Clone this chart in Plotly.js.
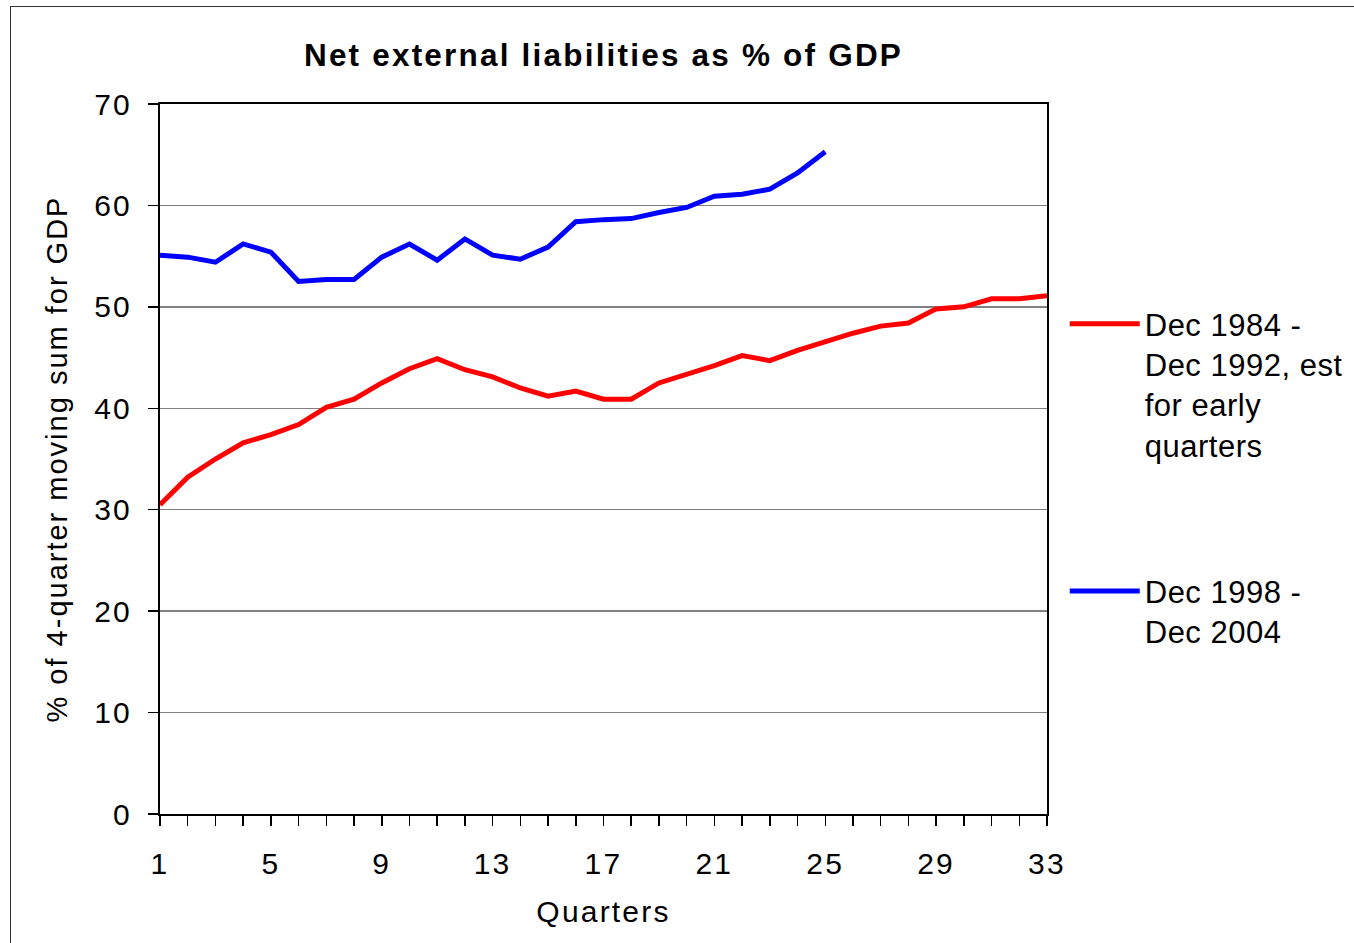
<!DOCTYPE html>
<html>
<head>
<meta charset="utf-8">
<script src="https://cdn.plot.ly/plotly-3.0.1.min.js"></script>
<style>
  html, body { margin: 0; padding: 0; background: #fff; }
  #wrap { position: relative; width: 1354px; height: 943px; }
  #chart { position: absolute; left: 0; top: 0; width: 1354px; height: 943px; }
  #chart text { letter-spacing: 2.2px; }
  #chart .ytitle { letter-spacing: 2px; }
  #chart .legend text { letter-spacing: 0.5px; }
  #frame { position: absolute; left: 10px; top: 6px; width: 1360px; height: 960px;
           border-left: 1.5px solid #333; border-top: 1.5px solid #333; pointer-events: none; }
</style>
</head>
<body>
<div id="wrap">
  <div id="chart"></div>
  <div id="frame"></div>
</div>
<script>
// Quarter index since the start of each episode
const quartersEarly = [1,2,3,4,5,6,7,8,9,10,11,12,13,14,15,16,17,18,19,20,21,22,23,24,25,26,27,28,29,30,31,32,33];
const quartersRecent = [1,2,3,4,5,6,7,8,9,10,11,12,13,14,15,16,17,18,19,20,21,22,23,24,25];

// Net external liabilities, % of 4-quarter moving sum of GDP
const liabilities1984 = [30.5,33.2,35.0,36.6,37.4,38.4,40.1,40.9,42.5,43.9,44.9,43.8,43.1,42.0,41.2,41.7,
                         40.9,40.9,42.5,43.3,44.2,45.2,44.7,45.7,46.6,47.4,48.1,48.4,49.8,50.0,50.8,50.8,51.1];
const liabilities1998 = [55.1,54.9,54.4,56.2,55.4,52.5,52.7,52.7,54.9,56.2,54.6,56.7,55.1,54.7,55.9,58.4,
                         58.6,58.7,59.3,59.8,60.9,61.1,61.6,63.2,65.3];

const seriesNames = ['Dec 1984 -<br>Dec 1992, est<br>for early<br>quarters', 'Dec 1998 -<br>Dec 2004'];
const xTickVals = [1,5,9,13,17,21,25,29,33];
const yTickVals = [0,10,20,30,40,50,60,70];

const FONT = '"Liberation Sans", Arial, sans-serif';

const traces = [
  { x: quartersEarly, y: liabilities1984, name: seriesNames[0], type: 'scatter', mode: 'lines',
    legendgroup: 'a', line: { color: '#ff0000', width: 5 } },
  { x: quartersRecent, y: liabilities1998, name: seriesNames[1], type: 'scatter', mode: 'lines',
    legendgroup: 'b', line: { color: '#0000ff', width: 5 } }
];

const layout = {
  width: 1354, height: 943,
  margin: { l: 160, r: 307, t: 104, b: 129, pad: 0 },
  paper_bgcolor: 'rgba(0,0,0,0)', plot_bgcolor: '#fff',
  font: { family: FONT, color: '#000', size: 30 },
  title: { text: '<b>Net external liabilities as % of GDP</b>', font: { family: FONT, size: 31.5, color: '#000' },
           x: 0.5, xref: 'paper', y: 1 - 55 / 943, yref: 'container', yanchor: 'middle' },
  xaxis: {
    range: [1, 33], tickmode: 'array', tickvals: xTickVals, ticktext: xTickVals.map(String),
    showgrid: false, zeroline: false, showline: true, linecolor: '#000', linewidth: 2, mirror: true,
    ticks: 'outside', ticklen: 10, tickwidth: 1.5, tickcolor: '#000',
    minor: { dtick: 1, ticks: 'outside', ticklen: 10, tickwidth: 1.5, tickcolor: '#000', showgrid: false },
    ticklabelstandoff: 12,
    tickfont: { size: 30, family: FONT },
    automargin: false,
    title: { text: 'Quarters', font: { size: 30, family: FONT }, standoff: 22 }
  },
  yaxis: {
    range: [0, 70], tickmode: 'array', tickvals: yTickVals,
    showgrid: true, gridcolor: '#808080', gridwidth: 1.5,
    zeroline: false, showline: true, linecolor: '#000', linewidth: 2, mirror: true,
    ticks: 'outside', ticklen: 10, tickwidth: 1.5, tickcolor: '#000',
    ticklabelstandoff: 10,
    tickfont: { size: 30, family: FONT },
    automargin: true,
    title: { text: '% of 4-quarter moving sum for GDP', font: { size: 29, family: FONT }, standoff: 22 }
  },
  showlegend: true,
  legend: {
    x: 1.02, xanchor: 'left', y: 0.728, yanchor: 'top',
    font: { size: 31, family: FONT, color: '#000' },
    bgcolor: 'rgba(0,0,0,0)', borderwidth: 0,
    traceorder: 'grouped', tracegroupgap: 103, valign: 'top', itemwidth: 70
  }
};

Plotly.newPlot('chart', traces, layout, { displayModeBar: false, staticPlot: true });
</script>
</body>
</html>
